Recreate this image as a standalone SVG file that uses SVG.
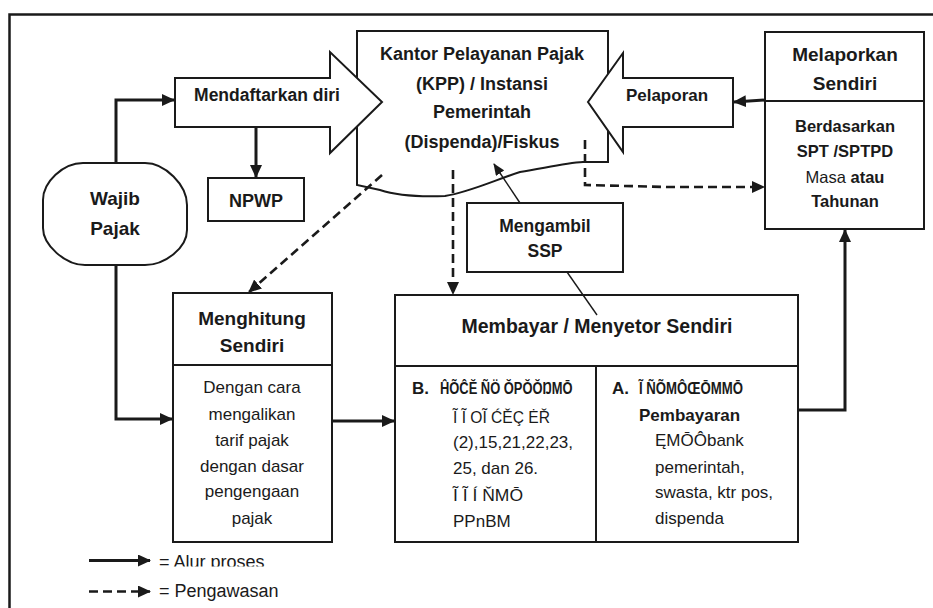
<svg xmlns="http://www.w3.org/2000/svg" width="933" height="608" viewBox="0 0 933 608">
<style>
.t{font-family:"Liberation Sans",Arial,sans-serif;fill:#1a1a1a}
.b{font-weight:bold}
.c{text-anchor:middle}
.box{fill:#fff;stroke:#1a1a1a;stroke-width:2}
.ln{fill:none;stroke:#1a1a1a;stroke-width:3}
.ds{fill:none;stroke:#1a1a1a;stroke-width:2.6;stroke-dasharray:9 5}
.th{fill:none;stroke:#1a1a1a;stroke-width:1.4}
</style>
<defs>
<marker id="ah" markerUnits="userSpaceOnUse" markerWidth="13" markerHeight="12" viewBox="0 0 13 12" refX="12" refY="6" orient="auto">
<path d="M0,0 L13,6 L0,12 z" fill="#1a1a1a"/>
</marker>
<marker id="ahs" markerUnits="userSpaceOnUse" markerWidth="12" markerHeight="10" viewBox="0 0 12 10" refX="11" refY="5" orient="auto">
<path d="M0,0 L12,5 L0,10 z" fill="#1a1a1a"/>
</marker>
<clipPath id="cl"><rect x="150" y="540" width="200" height="26.5"/></clipPath>
</defs>
<rect width="933" height="608" fill="#fff"/>
<rect x="9.5" y="14.5" width="1000" height="1000" fill="none" stroke="#1a1a1a" stroke-width="2.5"/>

<g id="kpp">
<path class="box" d="M357,31 H608 V162 H583 C565,163 545,168 520,172 C495,180 470,192 445,196 C420,197 395,195 380,190 L357,185 Z"/>
<text class="t b c" font-size="18" x="482" y="60">Kantor Pelayanan Pajak</text>
<text class="t b c" font-size="18" x="482" y="90">(KPP) / Instansi</text>
<text class="t b c" font-size="18" x="482" y="118">Pemerintah</text>
<text class="t b c" font-size="18" x="482" y="148">(Dispenda)/Fiskus</text>
</g>

<g id="mendaftarkan">
<polygon class="box" points="175,78 330,78 330,52 382,102 330,153 330,127 175,127"/>
<text class="t b c" font-size="17.5" x="267" y="101">Mendaftarkan diri</text>
</g>

<g id="pelaporan">
<polygon class="box" points="733,78 623,78 623,53 588,102 623,152 623,127 733,127"/>
<text class="t b c" font-size="17" x="667" y="101">Pelaporan</text>
</g>

<g id="melaporkan">
<rect class="box" x="765" y="32" width="159" height="197"/>
<line x1="765" y1="101" x2="924" y2="101" stroke="#1a1a1a" stroke-width="2"/>
<text class="t b c" font-size="19" x="845" y="61">Melaporkan</text>
<text class="t b c" font-size="19" x="845" y="90">Sendiri</text>
<text class="t b c" font-size="16.5" x="845" y="132">Berdasarkan</text>
<text class="t b c" font-size="16.5" x="845" y="157">SPT /SPTPD</text>
<text class="t c" font-size="16.5" x="845" y="183">Masa <tspan class="b">atau</tspan></text>
<text class="t b c" font-size="16.5" x="845" y="207">Tahunan</text>
</g>

<g id="npwp">
<rect class="box" x="208" y="178" width="96" height="43"/>
<text class="t b c" font-size="18" x="256" y="207">NPWP</text>
</g>

<g id="wajib">
<path class="box" d="M83,163 H145 C165,163 187,185 187,205 V230 C187,248 165,265 145,265 H85 C65,265 43,245 43,228 V200 C43,182 63,163 83,163 Z"/>
<text class="t b c" font-size="19" x="115" y="205">Wajib</text>
<text class="t b c" font-size="19" x="115" y="235">Pajak</text>
</g>

<g id="mengambil">
<rect class="box" x="467" y="203" width="156" height="69"/>
<text class="t b c" font-size="17.5" x="545" y="232">Mengambil</text>
<text class="t b c" font-size="17.5" x="545" y="257">SSP</text>
</g>

<g id="menghitung">
<rect class="box" x="173" y="293" width="159" height="249"/>
<line x1="173" y1="365" x2="332" y2="365" stroke="#1a1a1a" stroke-width="2"/>
<text class="t b c" font-size="19" x="252" y="325">Menghitung</text>
<text class="t b c" font-size="19" x="252" y="352">Sendiri</text>
<text class="t c" font-size="17" x="252" y="393">Dengan cara</text>
<text class="t c" font-size="17" x="252" y="420">mengalikan</text>
<text class="t c" font-size="17" x="252" y="446">tarif pajak</text>
<text class="t c" font-size="17" x="252" y="472">dengan dasar</text>
<text class="t c" font-size="17" x="252" y="497">pengengaan</text>
<text class="t c" font-size="17" x="252" y="524">pajak</text>
</g>

<g id="membayar">
<rect class="box" x="395" y="295" width="403" height="247"/>
<line x1="395" y1="366" x2="798" y2="366" stroke="#1a1a1a" stroke-width="2"/>
<line x1="596" y1="366" x2="596" y2="542" stroke="#1a1a1a" stroke-width="2"/>
<text class="t b c" font-size="19.5" x="597" y="333">Membayar / Menyetor Sendiri</text>
<text class="t b" font-size="17" x="412" y="394">B.</text>
<text class="t b" font-size="17" transform="translate(440,394) scale(0.76,1)">ĤÕĈĔ ÑÖ ŎPŎŎŊMŌ</text>
<text class="t" font-size="17" x="453" y="423" textLength="97" lengthAdjust="spacingAndGlyphs">Ĩ Ĩ OĨ ĆĚÇ ĖŘ</text>
<text class="t" font-size="17" x="453" y="448">(2),15,21,22,23,</text>
<text class="t" font-size="17" x="453" y="474">25, dan 26.</text>
<text class="t" font-size="17" x="453" y="501" textLength="70" lengthAdjust="spacingAndGlyphs">Ĩ Ĩ Í  ŇMŌ</text>
<text class="t" font-size="17" x="453" y="527">PPnBM</text>
<text class="t b" font-size="17" x="612" y="394">A.</text>
<text class="t b" font-size="17" transform="translate(639,394) scale(0.776,1)">Ĩ ÑÕMÔŒŌMMŌ</text>
<text class="t b" font-size="17" x="639" y="421">Pembayaran</text>
<text class="t" font-size="17" x="655" y="446">ĘMŌÔbank</text>
<text class="t" font-size="17" x="655" y="473">pemerintah,</text>
<text class="t" font-size="17" x="655" y="498">swasta, ktr pos,</text>
<text class="t" font-size="17" x="655" y="524">dispenda</text>
</g>

<g id="connectors">
<path class="ln" d="M116,163 V100 H174" marker-end="url(#ah)"/>
<path class="ln" d="M256,127 V177" marker-end="url(#ah)"/>
<path class="ln" d="M116,265 V419 H172" marker-end="url(#ah)"/>
<path class="ln" d="M332,421 H394" marker-end="url(#ah)"/>
<path class="ln" d="M798,410 H845 V230" marker-end="url(#ah)"/>
<path class="ln" d="M765,100 L734,102" marker-end="url(#ah)"/>
<path class="th" d="M520,203 L494,164" marker-end="url(#ahs)"/>
<path class="th" d="M567,272 L597,315"/>
<path class="ds" d="M382,175 L249,292" marker-end="url(#ah)"/>
<path class="ds" d="M453,170 V294" marker-end="url(#ah)"/>
<path class="ds" d="M585,140 V185 L668,187 H764" marker-end="url(#ah)"/>
</g>

<g id="legend">
<path class="ln" d="M89,560.5 H150" marker-end="url(#ah)"/>
<text class="t" font-size="18" x="159" y="568" clip-path="url(#cl)">= Alur proses</text>
<path class="ds" d="M89,591.5 H150" stroke-dasharray="7 5" marker-end="url(#ah)"/>
<text class="t" font-size="18" x="159" y="597">= Pengawasan</text>
</g>
</svg>
